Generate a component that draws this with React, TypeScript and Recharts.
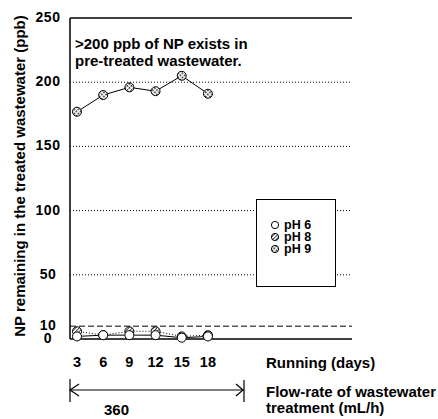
import { Line, LineChart, ReferenceLine, XAxis, YAxis } from "recharts";

const days = [3, 6, 9, 12, 15, 18];
const ph6 = [2, 3, 3, 3, 1, 2];
const ph8 = [6, 3, 6, 6, 2, 3];
const ph9 = [177, 190, 196, 193, 205, 191];

const yTicks = [0, 10, 50, 100, 150, 200, 250];
const gridLevels = [50, 100, 150, 200];

const seriesNames = ["pH 6", "pH 8", "pH 9"];
const seriesFills = ["#fff", "url(#hatch)", "url(#cross)"];

const data = days.map((day, i) => ({
  day,
  ph6: ph6[i],
  ph8: ph8[i],
  ph9: ph9[i],
}));

const font = "'Liberation Sans', Arial, sans-serif";

function makeDot(fill: string) {
  return (props: any) => {
    const { cx, cy, index } = props;
    if (cx == null || cy == null) return null;
    return (
      <circle
        key={index}
        cx={cx}
        cy={cy}
        r={4.5}
        fill={fill}
        stroke="#000"
        strokeWidth={1}
      />
    );
  };
}

function YTick(props: any) {
  const { x, y, payload } = props;
  return (
    <text
      x={x - 22}
      y={y - 1}
      textAnchor="middle"
      dominantBaseline="central"
      fontFamily={font}
      fontWeight="bold"
      fontSize={14}
      letterSpacing={0.5}
      fill="#000"
    >
      {payload.value}
    </text>
  );
}

function XTick(props: any) {
  const { x, y, payload } = props;
  return (
    <text
      x={x}
      y={y + 23}
      textAnchor="middle"
      dominantBaseline="central"
      fontFamily={font}
      fontWeight="bold"
      fontSize={14.5}
      fill="#000"
    >
      {payload.value}
    </text>
  );
}

function LegendBox() {
  return (
    <div
      style={{
        position: "absolute",
        left: 256,
        top: 199,
        width: 80,
        height: 88,
        border: "1px solid #000",
        background: "#fff",
        boxSizing: "border-box",
        paddingTop: 19,
        paddingLeft: 13,
      }}
    >
      {seriesNames.map((name, i) => (
        <div
          key={name}
          style={{
            display: "flex",
            alignItems: "center",
            height: 12,
            lineHeight: "12px",
            fontFamily: font,
            fontWeight: "bold",
            fontSize: 12.5,
            color: "#000",
          }}
        >
          <svg width={14} height={12}>
            <circle cx={5} cy={6} r={3.6} fill={seriesFills[i]} stroke="#000" />
          </svg>
          <span>{name}</span>
        </div>
      ))}
    </div>
  );
}

export default function App() {
  return (
    <div style={{ position: "absolute", left: 0, top: 0, width: 438, height: 419, background: "#fff" }}>
      <svg width={0} height={0} style={{ position: "absolute" }}>
        <defs>
          <pattern id="hatch" width={2.5} height={2.5} patternUnits="userSpaceOnUse" patternTransform="rotate(45)">
            <rect width={2.5} height={2.5} fill="#fff" />
            <line x1={0} y1={0} x2={0} y2={2.5} stroke="#000" strokeWidth={1.4} />
          </pattern>
          <pattern id="cross" width={3} height={3} patternUnits="userSpaceOnUse" patternTransform="rotate(45)">
            <rect width={3} height={3} fill="#fff" />
            <rect width={1.5} height={1.5} fill="#000" />
          </pattern>
        </defs>
      </svg>
      <LineChart
        width={438}
        height={419}
        data={data}
        margin={{ top: 18, right: 86, bottom: 50, left: 0 }}
      >
        <XAxis
          dataKey="day"
          type="number"
          domain={[2.2, 34.5]}
          allowDataOverflow
          ticks={days}
          height={30}
          tickSize={0}
          tickMargin={0}
          tick={<XTick />}
          axisLine={{ stroke: "#000", strokeWidth: 1.5 }}
          tickLine={false}
        />
        <YAxis
          type="number"
          domain={[0, 250]}
          ticks={yTicks}
          width={70}
          tickSize={0}
          tickMargin={0}
          tick={<YTick />}
          axisLine={{ stroke: "#000", strokeWidth: 1.5 }}
          tickLine={false}
          interval={0}
        />
        {gridLevels.map((v) => (
          <ReferenceLine key={v} y={v} stroke="#000" strokeDasharray="1 2" strokeWidth={1} />
        ))}
        <ReferenceLine y={10} stroke="#000" strokeDasharray="6 3" strokeWidth={1} />
        <ReferenceLine y={250} stroke="#000" strokeWidth={1.5} />
        <Line
          dataKey="ph9"
          stroke="#000"
          strokeWidth={1}
          dot={makeDot(seriesFills[2])}
          activeDot={false}
          isAnimationActive={false}
        />
        <Line
          dataKey="ph8"
          stroke="#000"
          strokeWidth={1}
          strokeDasharray="1 2"
          dot={makeDot(seriesFills[1])}
          activeDot={false}
          isAnimationActive={false}
        />
        <Line
          dataKey="ph6"
          stroke="#000"
          strokeWidth={1}
          dot={makeDot(seriesFills[0])}
          activeDot={false}
          isAnimationActive={false}
        />
      </LineChart>
      <LegendBox />
      <svg
        width={438}
        height={419}
        style={{ position: "absolute", left: 0, top: 0, pointerEvents: "none" }}
        fontFamily={font}
        fontWeight="bold"
        fontSize={15}
      >
        <text x={19} y={176} textAnchor="middle" dominantBaseline="central" transform="rotate(-90 19 176)">
          NP remaining in the treated wastewater (ppb)
        </text>
        <text x={75} y={49}>&gt;200 ppb of NP exists in</text>
        <text x={75} y={66}>pre-treated wastewater.</text>
        <text x={266} y={368}>Running (days)</text>
        <text x={266} y={397}>Flow-rate of wastewater</text>
        <text x={266} y={413}>treatment (mL/h)</text>
        <text x={104} y={415}>360</text>
        <g stroke="#000" strokeWidth={1.2} fill="none">
          <line x1={70} y1={390} x2={244} y2={390} />
          <line x1={70} y1={379} x2={70} y2={402} />
          <line x1={244} y1={380} x2={244} y2={402} />
          <polyline points="79,384 70,390 79,396" />
          <polyline points="236,384 243,390 236,396" />
        </g>
      </svg>
    </div>
  );
}
